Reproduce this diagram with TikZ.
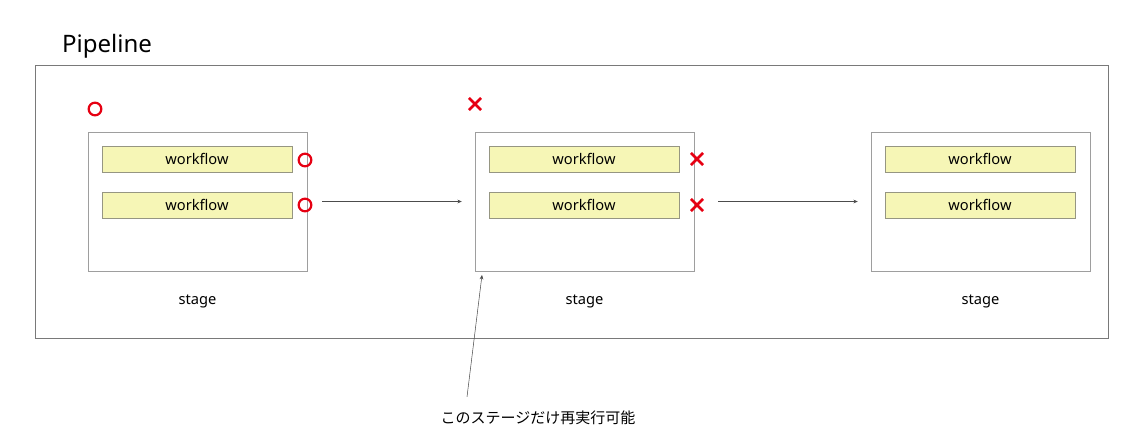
\documentclass[tikz,border=0pt]{standalone}
\usepackage{fontspec}
\setmainfont{Noto Sans}
\newfontfamily\jpfont{Noto Sans CJK JP}
\usetikzlibrary{arrows.meta,positioning,shapes.misc}
\definecolor{markRed}{RGB}{230,0,18}
\definecolor{wfYellow}{RGB}{246,246,182}
\definecolor{wfEdge}{RGB}{150,150,130}
\colorlet{boxGray}{black!38}
\colorlet{lineGray}{black!70}

\begin{document}
\begin{tikzpicture}[x=0.03cm,y=-0.03cm,
      stagebox/.style={draw=boxGray,minimum width=6.57cm,minimum height=4.17cm,inner sep=0pt},
      wf/.style={draw=wfEdge,fill=wfYellow,minimum width=5.7cm,minimum height=0.78cm,inner sep=0pt,font=\fontsize{12.5}{14}\selectfont},
      lbl/.style={font=\fontsize{12.5}{14}\selectfont},
      okmark/.style={circle,draw=markRed,line width=1.9pt,minimum size=0.38cm,inner sep=0pt},
      ngmark/.style={cross out,draw=markRed,line width=2.3pt,minimum size=0.28cm,inner sep=0pt},
      arr/.style={-{Stealth[length=1.3mm,width=1.1mm]},lineGray,line width=0.45pt}
    ]
    \useasboundingbox (0,0) rectangle (1138,434);
    % pipeline frame
    \node[draw=lineGray!75,minimum width=32.19cm,minimum height=8.19cm,inner sep=0pt] (pipe) at (571.5,201.5) {};
    \node[anchor=west,font=\fontsize{20.5}{23}\selectfont] (title) at (58,46) {Pipeline};
    % stages
    \node[stagebox] (s1) at (197.5,201.5) {};
    \node[stagebox] (s2) at (584.5,201.5) {};
    \node[stagebox] (s3) at (980.5,201.5) {};
    \node[lbl] (l1) at (197.5,301) {stage};
    \node[lbl] (l2) at (584.5,301) {stage};
    \node[lbl] (l3) at (980.5,301) {stage};
    % workflows
    \node[wf] (w11) at (197,159) {workflow};
    \node[wf] (w12) at (197,205) {workflow};
    \node[wf] (w21) at (584,159) {workflow};
    \node[wf] (w22) at (584,205) {workflow};
    \node[wf] (w31) at (980,159) {workflow};
    \node[wf] (w32) at (980,205) {workflow};
    % result marks
    \node[okmark] (o1) at (95,109) {};
    \node[okmark] (o2) at (305,160) {};
    \node[okmark] (o3) at (305,205) {};
    \node[ngmark] (x1) at (475,104) {};
    \node[ngmark] (x2) at (697,159) {};
    \node[ngmark] (x3) at (697,205) {};
    % flow
    \draw[arr] ([xshift=0.45cm]s1.east) -- ([xshift=-0.39cm]s2.west);
    \draw[arr] ([xshift=0.72cm]s2.east) -- ([xshift=-0.39cm]s3.west);
    % note
    \node[font=\jpfont\fontsize{12.8}{15}\selectfont] (note) at (538,418) {このステージだけ再実行可能};
    \coordinate (tip) at (482,275);
    \draw[arr] ([xshift=-2.13cm,yshift=0.3cm]note.north) -- (tip);
  \end{tikzpicture}
\end{document}
